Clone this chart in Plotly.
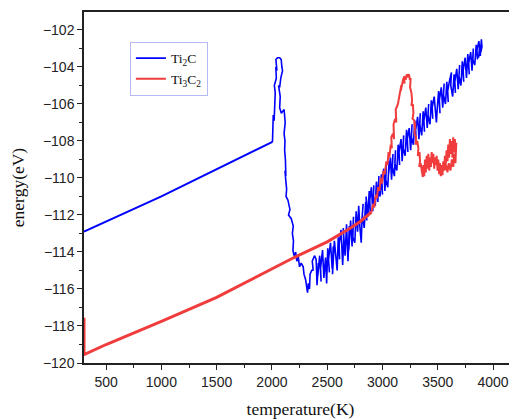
"""Ti2C / Ti3C2 energy vs temperature (MD heating run)."""

import plotly.graph_objects as go

# Ti2C: equilibrated linear part, then the melting / noisy part
blue_line_T = [300, 1000, 2005]
blue_line_E = [-112.9, -111.0, -108.05]

blue_melt_T = [
    2005, 2010, 2012, 2020, 2025, 2030, 2022, 2040, 2035, 2045,
    2036, 2050, 2070, 2084, 2090, 2096, 2080, 2070, 2060, 2075,
    2070, 2085, 2110, 2115, 2120, 2110, 2118, 2115, 2122, 2126,
    2118, 2125, 2133, 2128, 2145, 2163, 2150, 2175, 2193, 2185,
    2195, 2190, 2200, 2215, 2225, 2238, 2250, 2265, 2283, 2290,
    2305, 2314, 2322, 2330, 2340, 2345, 2360, 2373, 2365, 2385,
    2400, 2408, 2420, 2415, 2432, 2445, 2440, 2458, 2470, 2485,
    2495, 2505, 2520, 2512, 2530, 2545, 2555, 2548, 2565, 2580,
    2590, 2600, 2612, 2608, 2625, 2640, 2650, 2645, 2662, 2675,
    2688, 2700, 2695, 2712, 2725, 2738, 2732, 2750, 2762, 2775,
    2785, 2795, 2808, 2815, 2825, 2818, 2835, 2848, 2858, 2852,
    2868, 2880, 2890, 2885, 2900, 2912, 2922, 2918, 2935, 2945,
    2958, 2968, 2962, 2978, 2990, 3000, 2995, 3012, 3022, 3035,
    3030, 3048, 3060, 3055, 3072, 3082, 3095, 3090, 3108, 3118,
    3112, 3130, 3142, 3155, 3150, 3168, 3178, 3192, 3188, 3205,
    3218, 3230, 3225, 3242, 3255, 3268, 3262, 3280, 3292, 3305,
    3300, 3318, 3330, 3342, 3338, 3355, 3368, 3380, 3375, 3392,
    3405, 3418, 3412, 3430, 3442, 3455, 3450, 3468, 3480, 3488,
    3495, 3508, 3520, 3515, 3532, 3545, 3558, 3552, 3570, 3582,
    3595, 3590, 3608, 3624, 3618, 3635, 3648, 3660, 3655, 3672,
    3685, 3698, 3692, 3710, 3722, 3735, 3730, 3748, 3760, 3772,
    3785, 3780, 3798, 3810, 3822, 3818, 3835, 3848, 3860, 3855,
    3872, 3885, 3895, 3900, 3890, 3880, 3870,
]
blue_melt_E = [
    -108.05, -107.5, -106.6, -106.9, -106.0, -105.4, -105.0, -104.6, -104.0, -104.2,
    -103.6, -103.5, -103.5, -103.6, -104.0, -104.2, -104.6, -105.1, -105.0, -105.6,
    -106.2, -106.5, -106.3, -106.9, -107.0, -107.6, -108.0, -108.5, -109.0, -109.9,
    -109.6, -110.1, -110.6, -111.0, -111.2, -111.7, -112.0, -112.2, -112.6, -113.0,
    -113.4, -113.9, -114.2, -114.0, -114.5, -114.25, -114.8, -114.6, -114.8, -115.2,
    -115.5, -115.9, -116.2, -115.7, -116.0, -115.2, -115.0, -114.97, -114.5, -114.2,
    -114.4, -115.8, -114.6, -115.3, -114.2, -115.6, -114.9, -113.9, -115.4, -114.3,
    -115.7, -113.8, -115.1, -114.4, -113.5, -114.9, -113.7, -115.2, -113.4, -114.6,
    -115.0, -113.2, -114.4, -113.6, -112.8, -114.7, -113.3, -112.7, -114.2, -112.5,
    -114.5, -112.6, -113.9, -112.3, -113.7, -112.1, -113.2, -113.5, -111.8, -112.9,
    -111.5, -112.6, -113.5, -112.2, -111.4, -112.0, -112.7, -111.3, -112.3, -111.0,
    -112.1, -110.7, -111.9, -111.2, -110.5, -111.8, -110.4, -111.0, -111.5, -110.2,
    -111.3, -109.9, -110.6, -111.0, -109.8, -110.9, -110.2, -109.5, -110.7, -109.3,
    -110.1, -110.5, -109.1, -109.8, -108.9, -110.1, -108.7, -109.4, -109.9, -108.5,
    -109.2, -109.6, -108.2, -109.3, -108.6, -107.9, -109.1, -107.7, -108.4, -108.8,
    -107.4, -108.6, -107.9, -107.3, -108.5, -107.1, -107.8, -108.2, -106.9, -108.0,
    -107.4, -106.7, -107.9, -106.5, -107.1, -107.7, -106.4, -107.5, -106.9, -106.2,
    -107.3, -106.0, -106.6, -107.1, -105.8, -106.8, -106.2, -105.6, -106.7, -107.0,
    -106.3, -105.3, -106.5, -105.8, -105.1, -106.2, -104.9, -105.5, -106.0, -104.8,
    -105.9, -105.3, -104.7, -104.3, -105.0, -105.6, -104.4, -105.4, -104.8, -104.1,
    -105.2, -103.9, -104.5, -105.0, -103.7, -104.8, -104.2, -103.5, -104.6, -103.3,
    -104.4, -103.8, -103.2, -104.2, -103.0, -103.6, -103.9, -102.8, -103.6, -103.1,
    -102.6, -103.4, -102.5, -102.9, -103.2, -102.8, -103.5,
]

# Ti3C2
red_line_T = [300, 300, 500, 1000, 1500, 2000, 2200, 2500, 2700, 2800, 2900]
red_line_E = [-117.55, -119.55, -119.0, -117.75, -116.45, -114.9, -114.3, -113.45, -112.75, -112.35, -111.85]

red_melt_T = [
    2900, 2915, 2925, 2940, 2950, 2960, 2972, 2985, 2995, 3010,
    3020, 3035, 3045, 3055, 3062, 3075, 3085, 3080, 3095, 3105,
    3100, 3115, 3125, 3120, 3140, 3150, 3145, 3160, 3170, 3165,
    3180, 3190, 3200, 3195, 3210, 3220, 3230, 3240, 3248, 3255,
    3250, 3262, 3268, 3262, 3275, 3280, 3272, 3288, 3292, 3298,
    3290, 3305, 3300, 3315, 3325, 3320, 3335, 3340, 3332, 3345,
    3355, 3365, 3370, 3378, 3385, 3392, 3400, 3408, 3415, 3423,
    3430, 3438, 3445, 3452, 3460, 3468, 3475, 3483, 3490, 3498,
    3505, 3513, 3520, 3528, 3535, 3543, 3550, 3558, 3565, 3572,
    3580, 3588, 3595, 3603, 3610, 3618, 3625, 3633, 3640, 3648,
    3655, 3662, 3668, 3660, 3650, 3640, 3628, 3615, 3600, 3588,
    3575, 3560,
]
red_melt_E = [
    -111.85, -111.4, -111.6, -110.9, -111.1, -110.5, -110.7, -110.0, -110.3, -109.6,
    -109.8, -109.1, -109.3, -108.6, -108.9, -108.2, -108.4, -107.8, -107.6, -107.9,
    -107.1, -106.8, -107.0, -106.3, -106.0, -105.6, -105.9, -105.4, -105.0, -105.3,
    -104.8, -104.6, -104.9, -104.5, -104.7, -104.4, -104.5, -104.4, -104.7, -104.6,
    -105.1, -105.4, -105.8, -106.1, -106.0, -106.5, -106.8, -106.9, -107.3, -107.0,
    -107.6, -107.8, -108.2, -108.0, -108.4, -108.8, -108.6, -109.1, -109.4, -109.2,
    -109.7, -109.95, -109.3, -109.9, -109.0, -109.7, -108.8, -109.5, -108.7, -109.6,
    -108.9, -109.4, -108.6, -109.2, -108.7, -109.5, -108.9, -109.3, -108.8, -109.6,
    -109.0, -109.8, -109.2, -109.9, -109.3, -109.85, -109.1, -109.6, -108.8, -109.3,
    -108.5, -109.1, -108.2, -108.9, -107.9, -108.7, -108.0, -108.9, -107.8, -108.6,
    -107.9, -108.8, -108.1, -109.2, -108.7, -109.4, -109.0, -109.6, -109.2, -109.7,
    -109.3, -109.6,
]

BLUE = "#0000ff"
RED = "#f03c3c"

fig = go.Figure()
fig.add_trace(go.Scatter(x=blue_line_T, y=blue_line_E, mode="lines",
                         line={"color": BLUE, "width": 2},
                         legendgroup="ti2c", showlegend=False))
fig.add_trace(go.Scatter(x=blue_melt_T, y=blue_melt_E, mode="lines",
                         name="Ti<sub>2</sub>C", legendgroup="ti2c",
                         line={"color": BLUE, "width": 1.6}))
fig.add_trace(go.Scatter(x=red_line_T, y=red_line_E, mode="lines",
                         line={"color": RED, "width": 3},
                         legendgroup="ti3c2", showlegend=False))
fig.add_trace(go.Scatter(x=red_melt_T, y=red_melt_E, mode="lines",
                         name="Ti<sub>3</sub>C<sub>2</sub>", legendgroup="ti3c2",
                         line={"color": RED, "width": 2}))

axis_common = dict(
    showline=True, linecolor="#222", linewidth=1.5,
    ticks="outside", ticklen=5, tickwidth=1.2, tickcolor="#222",
    showgrid=False, zeroline=False,
    tickfont={"family": "Liberation Sans", "size": 14, "color": "#222"},
    layer="below traces",
)
title_font = {"family": "Liberation Serif", "size": 17.5, "color": "#111"}

fig.update_xaxes(
    range=[300, 4217], tick0=500, dtick=500, mirror=True,
    minor={"dtick": 250, "ticks": "outside", "ticklen": 3, "tickcolor": "#222"},
    title={"text": "temperature(K)", "standoff": 15, "font": title_font},
    **axis_common,
)
fig.update_yaxes(
    range=[-120, -101.03], tick0=-120, dtick=2,
    minor={"dtick": 1, "ticks": "outside", "ticklen": 3, "tickcolor": "#222"},
    title={"text": "energy(eV)", "standoff": 24, "font": title_font},
    **axis_common,
)

# the page body adds an 8px margin, so the figure is sized to fit inside it
fig.update_layout(
    width=509, height=411,
    margin={"l": 76, "r": 0, "t": 4, "b": 56},
    plot_bgcolor="white", paper_bgcolor="white",
    legend={"x": 0.106, "y": 0.915, "xanchor": "left", "yanchor": "top",
            "bordercolor": "#b4b8f4", "borderwidth": 1, "bgcolor": "white",
            "font": {"family": "Liberation Serif", "size": 13.5, "color": "#111"},
            "tracegroupgap": 0},
)

fig.write_html("out.html")
